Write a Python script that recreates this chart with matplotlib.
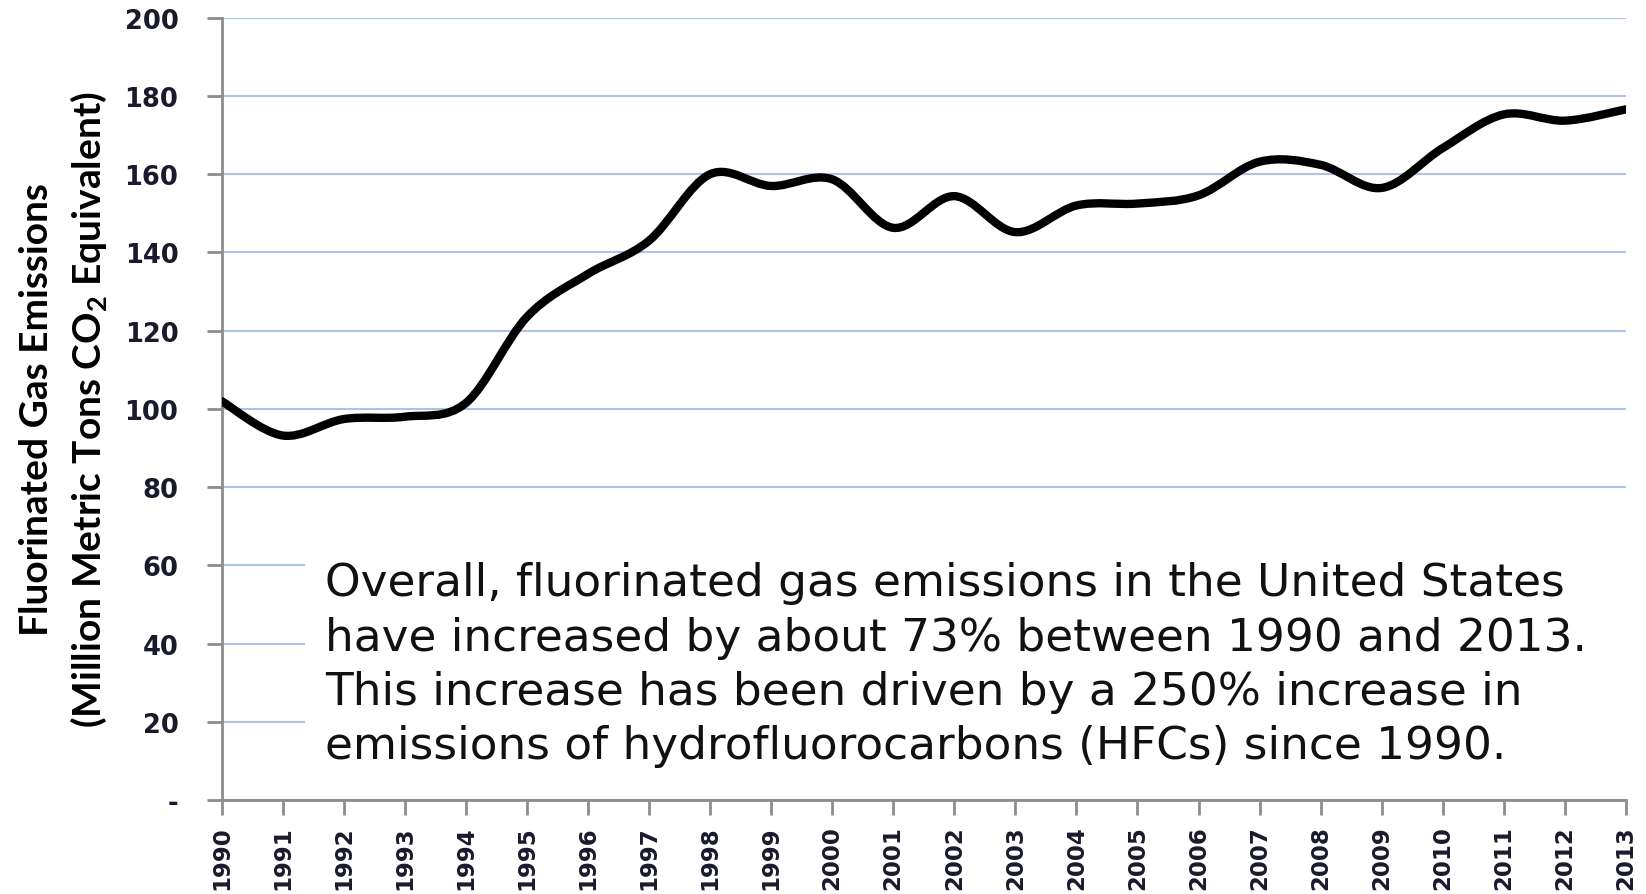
import matplotlib.pyplot as plt
from matplotlib.path import Path
from matplotlib.patches import PathPatch, Rectangle
import numpy as np

# data
years = list(range(1990, 2014))
emissions = [102.0, 93.2, 97.4, 98.0, 101.5, 123.5, 134.5, 143.0, 160.0, 157.0,
             158.7, 146.3, 154.4, 145.2, 152.0, 152.5, 154.6, 163.2, 162.4, 156.5,
             166.7, 175.3, 173.7, 176.6]
ytick_values = [0, 20, 40, 60, 80, 100, 120, 140, 160, 180, 200]
ytick_labels = ['-', '20', '40', '60', '80', '100', '120', '140', '160', '180', '200']
ylabel_lines = ['Fluorinated Gas Emissions',
                '(Million Metric Tons CO$_2$ Equivalent)']
note_lines = ['Overall, fluorinated gas emissions in the United States',
              'have increased by about 73% between 1990 and 2013.',
              'This increase has been driven by a 250% increase in',
              'emissions of hydrofluorocarbons (HFCs) since 1990.']

plt.rcParams['mathtext.fontset'] = 'custom'
plt.rcParams['mathtext.rm'] = 'Lato:bold'
plt.rcParams['mathtext.it'] = 'Lato:bold'
plt.rcParams['mathtext.bf'] = 'Lato:bold'


def smoothPath(x, y):
    # Excel-like smoothed line: Catmull-Rom segments as cubic Bezier curves
    p = np.column_stack([x, y]).astype(float)
    n = len(p)
    verts = [p[0]]
    codes = [Path.MOVETO]
    for i in range(n - 1):
        p0 = p[max(i - 1, 0)]
        p1 = p[i]
        p2 = p[i + 1]
        p3 = p[min(i + 2, n - 1)]
        c1 = p1 + (p2 - p0) / 6
        c2 = p2 - (p3 - p1) / 6
        verts += [c1, c2, p2]
        codes += [Path.CURVE4] * 3
    return Path(verts, codes)


fig = plt.figure(figsize=(16.46, 8.95), dpi=100)
ax = fig.add_axes([0.1346, 0.105, 0.8532, 0.874])

ax.add_patch(PathPatch(smoothPath(years, emissions), facecolor='none',
                       edgecolor='black', lw=6, capstyle='round',
                       joinstyle='round', zorder=3))

ax.set_xlim(1990, 2013)
ax.set_ylim(0, 200)
ax.set_xticks(years)
ax.set_xticklabels([str(y) for y in years], rotation=90, fontsize=16.5,
                   fontweight='bold', color='#1a1a2e')
ax.set_yticks(ytick_values)
ax.set_yticklabels(ytick_labels, fontsize=18.5, fontweight='bold', color='#1a1a2e')

ax.set_axisbelow(True)
ax.grid(axis='y', color='#adc2e8', lw=1.5)
for s in ['top', 'right']:
    ax.spines[s].set_visible(False)
for s in ['left', 'bottom']:
    ax.spines[s].set_color('#8c8c8c')
    ax.spines[s].set_linewidth(2)
ax.tick_params(axis='both', length=11, width=2, color='#8c8c8c')
ax.tick_params(axis='y', pad=20)
ax.tick_params(axis='x', pad=7)

# white box behind the note hides the lower gridlines
ax.add_patch(Rectangle((0.0595, 0.004), 0.95, 0.34, transform=ax.transAxes,
                       facecolor='white', edgecolor='none', zorder=1.5,
                       clip_on=False))
ax.text(0.0737, 0.305, '\n'.join(note_lines), transform=ax.transAxes,
        fontsize=32.7, color='#111111', va='top', ha='left', linespacing=1.33,
        zorder=4)

fig.text(37 / 1646, 0.542, ylabel_lines[0], rotation=90, ha='center',
         va='center', fontsize=28, fontweight='bold', family='Lato')
fig.text(89 / 1646, 0.542, ylabel_lines[1], rotation=90, ha='center',
         va='center', fontsize=28, fontweight='bold', family='Lato')

fig.savefig('out.png', dpi=100)
